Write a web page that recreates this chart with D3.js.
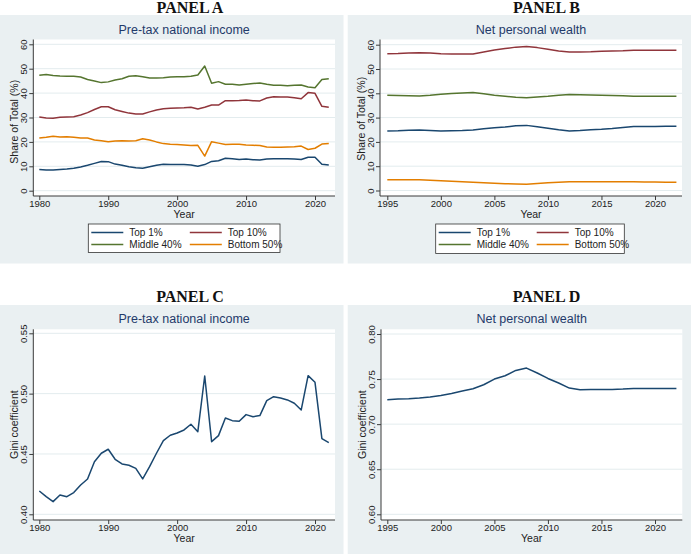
<!DOCTYPE html>
<html>
<head>
<meta charset="utf-8">
<script src="https://cdn.jsdelivr.net/npm/d3@7"></script>
<style>
  html, body { margin: 0; padding: 0; background: #ffffff; }
  svg { display: block; }
  text { font-family: "Liberation Sans", Arial, sans-serif; }
</style>
</head>
<body>
<svg id="chart" width="691" height="554"></svg>
<script>
// ---------------- DATA ----------------
const yearsIncome = d3.range(1980, 2023);
const yearsWealth = d3.range(1995, 2023);

const seriesNames = ["Top 1%", "Top 10%", "Middle 40%", "Bottom 50%"];

// Panel A: pre-tax national income shares (%)
const incomeTop1 = [8.7,8.5,8.5,8.7,8.9,9.2,9.7,10.4,11.2,12.0,
  11.9,10.9,10.4,9.8,9.4,9.2,9.8,10.4,10.8,10.7,
  10.7,10.7,10.5,10.0,10.7,12.0,12.3,13.3,13.1,12.8,
  13.0,12.7,12.6,13.0,13.1,13.1,13.1,13.0,12.8,13.7,
  13.7,10.8,10.5];
const incomeTop10 = [30.2,29.8,29.7,30.1,30.2,30.3,31.0,32.0,33.3,34.4,
  34.4,33.2,32.5,31.8,31.4,31.4,32.3,33.1,33.6,33.8,
  33.9,34.0,34.2,33.5,34.2,35.1,35.1,36.9,36.9,37.0,
  37.2,36.9,36.8,38.0,38.5,38.4,38.4,38.1,37.7,40.2,
  39.9,34.6,34.2];
const incomeMiddle40 = [47.3,47.6,47.2,47.0,46.9,46.9,46.6,45.6,45.0,44.3,
  44.6,45.4,45.9,46.9,47.1,46.7,46.2,46.2,46.3,46.6,
  46.7,46.7,46.9,47.4,51.1,44.0,44.7,43.6,43.6,43.3,
  43.6,43.9,44.1,43.6,43.2,43.2,43.0,43.2,43.3,42.5,
  42.2,45.6,45.9];
const incomeBottom50 = [21.6,21.9,22.3,22.0,22.1,21.9,21.6,21.6,20.8,20.5,
  20.1,20.4,20.5,20.4,20.5,21.3,20.8,20.0,19.3,19.0,
  18.9,18.7,18.5,18.6,14.2,20.1,19.5,18.9,19.0,19.0,
  18.7,18.6,18.5,17.9,17.8,17.8,17.9,18.0,18.3,16.9,
  17.4,19.1,19.3];

// Panel B: net personal wealth shares (%)
const wealthTop1 = [24.5,24.6,24.8,24.9,24.7,24.5,24.6,24.7,24.9,25.4,
  25.8,26.1,26.6,26.8,26.2,25.6,25.0,24.5,24.7,25.0,
  25.2,25.5,25.9,26.3,26.3,26.3,26.4,26.4];
const wealthTop10 = [56.3,56.4,56.6,56.7,56.6,56.3,56.2,56.2,56.2,57.0,
  57.8,58.4,59.0,59.3,58.8,58.1,57.4,57.0,57.0,57.1,
  57.3,57.4,57.5,57.7,57.7,57.7,57.7,57.7];
const wealthMiddle40 = [39.2,39.1,39.0,38.9,39.2,39.6,39.9,40.1,40.3,39.8,
  39.2,38.8,38.4,38.2,38.5,38.8,39.2,39.5,39.4,39.3,
  39.2,39.1,39.0,38.8,38.8,38.8,38.8,38.8];
const wealthBottom50 = [4.4,4.4,4.4,4.4,4.2,4.0,3.8,3.6,3.4,3.2,
  3.0,2.8,2.7,2.6,2.9,3.2,3.4,3.6,3.6,3.6,
  3.6,3.6,3.6,3.6,3.5,3.5,3.4,3.4];

// Panel C: Gini, pre-tax national income
const giniIncome = [0.4193,0.4146,0.4105,0.4160,0.4146,0.4180,0.4243,0.4293,0.4436,0.4506,
  0.4539,0.4456,0.4417,0.4406,0.4381,0.4293,0.4395,0.4506,0.4610,0.4655,
  0.4674,0.4699,0.4746,0.4685,0.5146,0.4602,0.4652,0.4798,0.4776,0.4771,
  0.4826,0.4809,0.4818,0.4942,0.4975,0.4964,0.4948,0.4920,0.4865,0.5149,
  0.5094,0.4627,0.4594];

// Panel D: Gini, net personal wealth
const giniWealth = [0.7270,0.7278,0.7281,0.7289,0.7300,0.7319,0.7341,0.7367,0.7393,0.7437,
  0.7500,0.7537,0.7596,0.7622,0.7567,0.7507,0.7456,0.7400,0.7381,0.7385,
  0.7385,0.7385,0.7389,0.7396,0.7396,0.7396,0.7396,0.7396];

const ticksIncomeYears = [1980, 1990, 2000, 2010, 2020];
const ticksWealthYears = [1995, 2000, 2005, 2010, 2015, 2020];
const ticksShare = [0, 10, 20, 30, 40, 50, 60];
const ticksGiniIncome = [0.40, 0.45, 0.50, 0.55];
const ticksGiniWealth = [0.60, 0.65, 0.70, 0.75, 0.80];

const panelLabels = ["PANEL A", "PANEL B", "PANEL C", "PANEL D"];
const subTitles = ["Pre-tax national income", "Net personal wealth"];

// ---------------- STYLE ----------------
const colors = ["#1a476f", "#90353b", "#55752f", "#e37e00"];
const bgColor = "#eaf0f2";
const gridColor = "#e3ecee";
const axisColor = "#3a3a3a";
const titleColor = "#1f3a6a";

const svg = d3.select("#chart");

function drawPanel(cfg) {
  const g = svg.append("g");
  // graph region background
  g.append("rect").attr("x", cfg.bg[0]).attr("y", cfg.bg[1])
    .attr("width", cfg.bg[2]).attr("height", cfg.bg[3]).attr("fill", bgColor);
  // panel label
  svg.append("text").attr("x", cfg.labelX).attr("y", cfg.labelY)
    .attr("text-anchor", "middle")
    .style("font-family", "'Liberation Serif', 'Times New Roman', serif")
    .style("font-weight", "bold").style("font-size", "16px").attr("fill", "#111")
    .text(cfg.label);
  const p = cfg.plot;
  // plot region
  g.append("rect").attr("x", p.l).attr("y", p.t).attr("width", p.r - p.l)
    .attr("height", p.b - p.t).attr("fill", "#ffffff");
  // subtitle
  g.append("text").attr("x", (p.l + p.r) / 2).attr("y", p.t - 6)
    .attr("text-anchor", "middle").style("font-size", "12.5px").attr("fill", titleColor)
    .text(cfg.subtitle);

  const x = d3.scaleLinear().domain(cfg.xDomain).range(cfg.xRange);
  const y = d3.scaleLinear().domain(cfg.yDomain).range(cfg.yRange);

  // gridlines
  g.append("g").selectAll("line").data(cfg.yTicks).join("line")
    .attr("x1", p.l).attr("x2", p.r)
    .attr("y1", d => y(d)).attr("y2", d => y(d))
    .attr("stroke", gridColor).attr("stroke-width", 1);

  // y axis
  const ya = g.append("g").attr("transform", `translate(${p.l},0)`)
    .call(d3.axisLeft(y).tickValues(cfg.yTicks).tickSize(4).tickSizeOuter(0)
      .tickFormat(cfg.yFormat));
  ya.select(".domain").remove();
  ya.selectAll(".tick line").attr("stroke", axisColor);
  ya.selectAll(".tick text")
    .attr("x", null).attr("y", null).attr("dy", null)
    .attr("text-anchor", "middle")
    .attr("transform", "translate(-6,0) rotate(-90)")
    .style("font-size", "9.5px").attr("fill", "#222");
  g.append("line").attr("x1", p.l).attr("x2", p.l).attr("y1", p.t).attr("y2", p.b)
    .attr("stroke", axisColor).attr("stroke-width", 1);

  // x axis
  const xa = g.append("g").attr("transform", `translate(0,${p.b})`)
    .call(d3.axisBottom(x).tickValues(cfg.xTicks).tickSize(4).tickSizeOuter(0)
      .tickFormat(d3.format("d")));
  xa.select(".domain").remove();
  xa.selectAll(".tick line").attr("stroke", axisColor);
  xa.selectAll(".tick text").attr("y", 4.5).attr("dy", "0.71em")
    .style("font-size", "9.5px").attr("fill", "#222");
  g.append("line").attr("x1", p.l).attr("x2", p.r).attr("y1", p.b).attr("y2", p.b)
    .attr("stroke", axisColor).attr("stroke-width", 1);

  // axis titles
  g.append("text").attr("x", (p.l + p.r) / 2).attr("y", p.b + 22)
    .attr("text-anchor", "middle").style("font-size", "10.5px").attr("fill", "#222")
    .text("Year");
  g.append("text")
    .attr("transform", `translate(${p.l - 15.5},${(p.t + p.b) / 2 + cfg.yTitleShift}) rotate(-90)`)
    .attr("text-anchor", "middle").style("font-size", "10.5px").attr("fill", "#222")
    .text(cfg.yTitle);

  // lines
  const line = d3.line().x(d => x(d[0])).y(d => y(d[1]));
  cfg.series.forEach((s, i) => {
    g.append("path").datum(cfg.years.map((yr, k) => [yr, s[k]]))
      .attr("d", line).attr("fill", "none")
      .attr("stroke", colors[i]).attr("stroke-width", 1.5)
      .attr("stroke-linejoin", "round");
  });

  // legend
  if (cfg.legend) {
    const L = cfg.legend;
    g.append("rect").attr("x", L.x).attr("y", L.y).attr("width", L.w).attr("height", L.h)
      .attr("fill", "#ffffff").attr("stroke", "#333").attr("stroke-width", 0.8);
    seriesNames.forEach((name, i) => {
      const col = i % 2, row = Math.floor(i / 2);
      const lx = L.x + 3 + col * L.colW;
      const ly = L.y + 8.5 + row * 12;
      g.append("line").attr("x1", lx).attr("x2", lx + 32).attr("y1", ly).attr("y2", ly)
        .attr("stroke", colors[i]).attr("stroke-width", 1.5);
      g.append("text").attr("x", lx + 38).attr("y", ly + 3.5)
        .style("font-size", "10px").attr("fill", "#222").text(name);
    });
  }
}

const shareFmt = d3.format("d");
const giniFmt = d3.format(".2f");

drawPanel({
  bg: [0, 15, 343.5, 248.5], label: panelLabels[0], labelX: 190, labelY: 13,
  plot: { l: 33.3, r: 335, t: 39.5, b: 196 },
  subtitle: subTitles[0], yTitle: "Share of Total (%)", yTitleShift: 4,
  xDomain: [1980, 2020], xRange: [39.3, 315],
  yDomain: [0, 60], yRange: [190.7, 44.3],
  xTicks: ticksIncomeYears, yTicks: ticksShare, yFormat: shareFmt,
  years: yearsIncome,
  series: [incomeTop1, incomeTop10, incomeMiddle40, incomeBottom50],
  legend: { x: 88.3, y: 224, w: 191.7, h: 28.5, colW: 98.5 }
});

drawPanel({
  bg: [347.7, 15, 343.3, 248.5], label: panelLabels[1], labelX: 546.5, labelY: 13,
  plot: { l: 380, r: 682, t: 39.5, b: 196 },
  subtitle: subTitles[1], yTitle: "Share of Total (%)", yTitleShift: 1,
  xDomain: [1995, 2020], xRange: [387.3, 655],
  yDomain: [0, 60], yRange: [190.5, 44.7],
  xTicks: ticksWealthYears, yTicks: ticksShare, yFormat: shareFmt,
  years: yearsWealth,
  series: [wealthTop1, wealthTop10, wealthMiddle40, wealthBottom50],
  legend: { x: 435.7, y: 224, w: 188.6, h: 29.5, colW: 98 }
});

drawPanel({
  bg: [0, 305, 343.5, 249], label: panelLabels[2], labelX: 190, labelY: 301.5,
  plot: { l: 33.3, r: 335, t: 329.3, b: 520 },
  subtitle: subTitles[0], yTitle: "Gini coefficient", yTitleShift: 0,
  xDomain: [1980, 2020], xRange: [39.3, 315],
  yDomain: [0.40, 0.55], yRange: [514.3, 333.3],
  xTicks: ticksIncomeYears, yTicks: ticksGiniIncome, yFormat: giniFmt,
  years: yearsIncome,
  series: [giniIncome],
  legend: null
});

drawPanel({
  bg: [347.7, 305, 343.3, 249], label: panelLabels[3], labelX: 546.5, labelY: 301.5,
  plot: { l: 381, r: 682.3, t: 329.3, b: 520 },
  subtitle: subTitles[1], yTitle: "Gini coefficient", yTitleShift: 0,
  xDomain: [1995, 2020], xRange: [387.3, 655],
  yDomain: [0.60, 0.80], yRange: [514.3, 334],
  xTicks: ticksWealthYears, yTicks: ticksGiniWealth, yFormat: giniFmt,
  years: yearsWealth,
  series: [giniWealth],
  legend: null
});
</script>
</body>
</html>
